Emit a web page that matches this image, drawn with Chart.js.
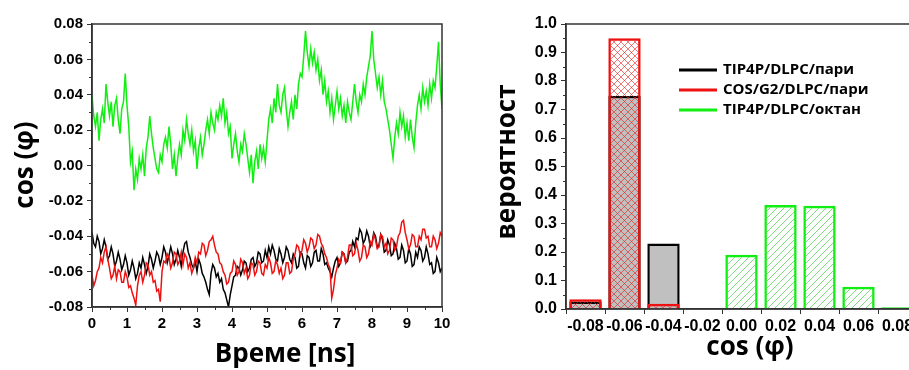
<!DOCTYPE html>
<html>
<head>
<meta charset="utf-8">
<script src="https://cdn.jsdelivr.net/npm/chart.js@4.4.1/dist/chart.umd.min.js"></script>
<style>
  html, body { margin: 0; padding: 0; background: #fff; overflow: hidden; }
  #timeChart { position: absolute; left: 0; top: 0; }
  #histChart { position: absolute; left: 460px; top: 0; }
</style>
</head>
<body>
<canvas id="timeChart" width="460" height="370"></canvas>
<canvas id="histChart" width="470" height="370"></canvas>
<script>
// left panel: cos(phi) vs time, sampled every 0.05 ns
const SAMPLE_STEP_NS = 0.05;

const cosTip4pOctane = [
  0.040, 0.028, 0.022, 0.030, 0.014, 0.026, 0.032, 0.024, 0.046, 0.036, 0.028, 0.036, 0.022, 0.034, 0.038, 0.026, 0.018, 0.032, 0.036, 0.052,
  0.034, 0.022, 0.002, 0.008, -0.014, -0.002, -0.008, 0.004, -0.002, 0.006, -0.006, 0.010, 0.016, 0.028, 0.018, 0.010, 0.004, -0.002, -0.004, 0.006,
  0.002, 0.012, 0.016, 0.010, 0.022, 0.012, -0.002, 0.006, -0.006, 0.004, 0.012, 0.006, 0.020, 0.014, 0.026, 0.018, 0.012, 0.020, 0.008, 0.014,
  -0.002, 0.010, 0.016, 0.006, 0.012, 0.020, 0.026, 0.018, 0.030, 0.024, 0.020, 0.030, 0.026, 0.034, 0.028, 0.038, 0.024, 0.030, 0.018, 0.022,
  0.004, 0.012, 0.018, 0.008, 0.002, 0.012, 0.008, 0.018, 0.012, 0.004, -0.004, 0.006, -0.010, 0.002, 0.008, -0.002, 0.012, 0.004, 0.010, 0.002,
  0.014, 0.026, 0.032, 0.024, 0.038, 0.030, 0.046, 0.034, 0.030, 0.040, 0.044, 0.032, 0.022, 0.030, 0.036, 0.026, 0.040, 0.032, 0.046, 0.052,
  0.050, 0.062, 0.076, 0.064, 0.056, 0.066, 0.058, 0.064, 0.054, 0.060, 0.048, 0.054, 0.040, 0.048, 0.036, 0.042, 0.030, 0.038, 0.026, 0.034,
  0.042, 0.032, 0.038, 0.028, 0.034, 0.024, 0.036, 0.030, 0.026, 0.036, 0.046, 0.036, 0.030, 0.040, 0.036, 0.046, 0.040, 0.050, 0.056, 0.062,
  0.076, 0.060, 0.052, 0.044, 0.050, 0.040, 0.048, 0.036, 0.032, 0.026, 0.020, 0.012, 0.004, 0.016, 0.024, 0.018, 0.030, 0.022, 0.028, 0.016,
  0.024, 0.014, 0.026, 0.016, 0.010, 0.024, 0.034, 0.040, 0.032, 0.044, 0.036, 0.042, 0.034, 0.046, 0.038, 0.048, 0.044, 0.056, 0.070, 0.046,
  0.032
];

const cosTip4pAir = [
  -0.038, -0.044, -0.046, -0.040, -0.043, -0.050, -0.047, -0.042, -0.046, -0.053, -0.051, -0.046, -0.050, -0.057, -0.054, -0.049, -0.053, -0.059, -0.056, -0.051,
  -0.055, -0.062, -0.059, -0.054, -0.058, -0.064, -0.061, -0.055, -0.058, -0.052, -0.056, -0.061, -0.057, -0.050, -0.053, -0.058, -0.054, -0.049, -0.051, -0.056,
  -0.052, -0.046, -0.049, -0.055, -0.051, -0.046, -0.050, -0.056, -0.053, -0.048, -0.052, -0.057, -0.049, -0.044, -0.043, -0.049, -0.052, -0.056, -0.058, -0.054,
  -0.060, -0.053, -0.056, -0.061, -0.063, -0.066, -0.070, -0.073, -0.061, -0.056, -0.058, -0.063, -0.061, -0.066, -0.064, -0.070, -0.072, -0.076, -0.080, -0.073,
  -0.068, -0.063, -0.062, -0.057, -0.058, -0.062, -0.059, -0.054, -0.055, -0.060, -0.058, -0.053, -0.052, -0.057, -0.055, -0.049, -0.050, -0.055, -0.054, -0.048,
  -0.052, -0.046, -0.050, -0.045, -0.048, -0.053, -0.054, -0.047, -0.050, -0.055, -0.052, -0.046, -0.048, -0.053, -0.055, -0.050, -0.052, -0.058, -0.057, -0.049,
  -0.050, -0.055, -0.058, -0.051, -0.052, -0.057, -0.055, -0.049, -0.048, -0.054, -0.054, -0.047, -0.050, -0.056, -0.055, -0.058, -0.060, -0.063, -0.058, -0.054,
  -0.052, -0.057, -0.055, -0.049, -0.050, -0.055, -0.054, -0.049, -0.048, -0.043, -0.046, -0.041, -0.042, -0.036, -0.038, -0.044, -0.042, -0.037, -0.040, -0.046,
  -0.044, -0.038, -0.040, -0.046, -0.045, -0.039, -0.042, -0.049, -0.048, -0.042, -0.045, -0.051, -0.050, -0.044, -0.047, -0.053, -0.052, -0.045, -0.048, -0.055,
  -0.054, -0.047, -0.050, -0.057, -0.056, -0.049, -0.052, -0.046, -0.048, -0.054, -0.052, -0.046, -0.050, -0.056, -0.055, -0.061, -0.060, -0.052, -0.055, -0.060,
  -0.058
];

const cosCosG2Air = [
  -0.062, -0.068, -0.065, -0.060, -0.058, -0.052, -0.055, -0.049, -0.046, -0.053, -0.058, -0.064, -0.062, -0.057, -0.064, -0.059, -0.060, -0.066, -0.066, -0.060,
  -0.063, -0.069, -0.068, -0.072, -0.075, -0.079, -0.068, -0.062, -0.060, -0.066, -0.062, -0.055, -0.056, -0.062, -0.060, -0.066, -0.065, -0.071, -0.070, -0.077,
  -0.060, -0.054, -0.055, -0.050, -0.052, -0.058, -0.055, -0.049, -0.050, -0.056, -0.054, -0.049, -0.056, -0.050, -0.052, -0.058, -0.055, -0.061, -0.058, -0.052,
  -0.055, -0.049, -0.050, -0.044, -0.045, -0.051, -0.048, -0.043, -0.042, -0.040, -0.045, -0.049, -0.050, -0.055, -0.056, -0.060, -0.062, -0.067, -0.066, -0.061,
  -0.060, -0.054, -0.056, -0.062, -0.060, -0.053, -0.055, -0.061, -0.058, -0.064, -0.062, -0.055, -0.056, -0.062, -0.060, -0.054, -0.055, -0.061, -0.062, -0.056,
  -0.058, -0.052, -0.055, -0.061, -0.060, -0.054, -0.056, -0.061, -0.058, -0.064, -0.062, -0.055, -0.055, -0.061, -0.060, -0.053, -0.050, -0.045, -0.046, -0.051,
  -0.048, -0.042, -0.044, -0.049, -0.046, -0.041, -0.042, -0.047, -0.045, -0.039, -0.040, -0.044, -0.046, -0.050, -0.052, -0.056, -0.058, -0.075, -0.070, -0.062,
  -0.058, -0.053, -0.055, -0.049, -0.050, -0.055, -0.052, -0.045, -0.045, -0.051, -0.050, -0.044, -0.048, -0.054, -0.052, -0.045, -0.046, -0.052, -0.050, -0.043,
  -0.045, -0.039, -0.042, -0.047, -0.046, -0.039, -0.040, -0.046, -0.044, -0.050, -0.048, -0.041, -0.042, -0.048, -0.046, -0.040, -0.038, -0.032, -0.031, -0.038,
  -0.042, -0.047, -0.045, -0.039, -0.040, -0.046, -0.046, -0.040, -0.042, -0.036, -0.036, -0.041, -0.040, -0.046, -0.046, -0.040, -0.042, -0.047, -0.044, -0.038,
  -0.040
];

// right panel: histogram of cos(phi)
const binLabels = ["-0.08", "-0.06", "-0.04", "-0.02", "0.00", "0.02", "0.04", "0.06", "0.08"];
const probTip4pAir = [0.026, 0.747, 0.23, null, null, null, null, null, null];
const probCosG2Air = [0.034, 0.95, 0.018, null, null, null, null, null, null];
const probTip4pOctane = [null, null, null, 0.002, 0.19, 0.365, 0.362, 0.078, 0.006];

const seriesNames = ["TIP4P/DLPC/пари", "COS/G2/DLPC/пари", "TIP4P/DLPC/октан"];

const BLACK = "#000000";
const RED = "#ee1111";
const GREEN = "#11ee11";
const AXIS = "#333333";
const TICK_FONT = { family: "'Liberation Sans', Arial, sans-serif", weight: "bold", size: 15 };
const TITLE_FONT = "bold 26px 'Open Sans', sans-serif";

const toPoints = (vals) => vals.map((v, i) => ({ x: i * SAMPLE_STEP_NS, y: v }));

function makePattern(kind, color) {
  const c = document.createElement("canvas");
  c.width = 7;
  c.height = 7;
  const g = c.getContext("2d");
  g.strokeStyle = color;
  g.lineWidth = 1;
  g.beginPath();
  g.moveTo(-1, 8); g.lineTo(8, -1);
  g.moveTo(-4.5, 4.5); g.lineTo(4.5, -4.5);
  g.moveTo(2.5, 11.5); g.lineTo(11.5, 2.5);
  if (kind === "cross") {
    g.moveTo(-1, -1); g.lineTo(8, 8);
    g.moveTo(-4.5, 2.5); g.lineTo(4.5, 11.5);
    g.moveTo(2.5, -4.5); g.lineTo(11.5, 4.5);
  }
  g.stroke();
  return g.createPattern(c, "repeat");
}

// box frame, minor ticks and axis titles
const decorPlugin = {
  id: "decor",
  afterDraw(chart, args, opts) {
    const { ctx, chartArea: a, scales } = chart;
    ctx.save();
    ctx.strokeStyle = AXIS;
    ctx.lineWidth = 1.5;
    ctx.strokeRect(a.left, a.top, a.right - a.left, a.bottom - a.top);

    ctx.lineWidth = 1;
    ctx.beginPath();
    (opts.xMinor || []).forEach((v) => {
      const px = Math.round(scales.x.getPixelForValue(v)) + 0.5;
      ctx.moveTo(px, a.bottom);
      ctx.lineTo(px, a.bottom + 3);
    });
    (opts.yMinor || []).forEach((v) => {
      const py = Math.round(scales.y.getPixelForValue(v)) + 0.5;
      ctx.moveTo(a.left - 3, py);
      ctx.lineTo(a.left, py);
    });
    ctx.stroke();

    ctx.fillStyle = "#000";
    ctx.font = TITLE_FONT;
    ctx.textAlign = "center";
    ctx.textBaseline = "middle";
    const xt = opts.xTitle;
    ctx.fillText(xt.text, a.left + xt.dx, a.bottom + xt.dy);
    const yt = opts.yTitle;
    ctx.translate(a.left + yt.dx, a.top + yt.dy);
    ctx.rotate(-Math.PI / 2);
    ctx.fillText(yt.text, 0, 0);
    ctx.restore();
  },
};

const legendPlugin = {
  id: "lineLegend",
  afterDraw(chart, args, opts) {
    if (!opts.items) return;
    const { ctx, chartArea: a } = chart;
    ctx.save();
    ctx.font = "bold 15px 'Open Sans', sans-serif";
    ctx.textBaseline = "middle";
    ctx.textAlign = "left";
    opts.items.forEach((it, i) => {
      const y = a.top + 46 + i * 20;
      const x = a.left + 113;
      ctx.strokeStyle = it.color;
      ctx.lineWidth = 3;
      ctx.beginPath();
      ctx.moveTo(x, y);
      ctx.lineTo(x + 38, y);
      ctx.stroke();
      ctx.fillStyle = "#000";
      ctx.fillText(it.label, x + 44, y);
    });
    ctx.restore();
  },
};

Chart.register(decorPlugin, legendPlugin);

const axisGrid = { drawOnChartArea: false, drawTicks: true, tickLength: 5, color: AXIS };
const axisBorder = { display: true, color: AXIS, width: 1.5 };

new Chart(document.getElementById("timeChart"), {
  type: "line",
  data: {
    datasets: [
      { label: seriesNames[2], data: toPoints(cosTip4pOctane), borderColor: GREEN, order: 3 },
      { label: seriesNames[0], data: toPoints(cosTip4pAir), borderColor: BLACK, order: 2 },
      { label: seriesNames[1], data: toPoints(cosCosG2Air), borderColor: RED, order: 1 },
    ],
  },
  options: {
    responsive: false,
    animation: false,
    devicePixelRatio: 1,
    layout: { padding: { top: 24, right: 18, left: 0, bottom: 0 } },
    elements: { point: { radius: 0 }, line: { borderWidth: 1.5, tension: 0 } },
    scales: {
      x: {
        type: "linear",
        min: 0,
        max: 10,
        grid: axisGrid,
        border: axisBorder,
        ticks: { stepSize: 1, color: "#000", font: TICK_FONT, padding: 3, maxRotation: 0 },
        afterFit: (s) => { s.height = 63; },
      },
      y: {
        min: -0.08,
        max: 0.08,
        grid: axisGrid,
        border: axisBorder,
        ticks: { stepSize: 0.02, color: "#000", font: TICK_FONT, padding: 4, callback: (v) => v.toFixed(2) },
        afterFit: (s) => { s.width = 92; },
      },
    },
    plugins: {
      legend: { display: false },
      tooltip: { enabled: false },
      decor: {
        xMinor: [0.5, 1.5, 2.5, 3.5, 4.5, 5.5, 6.5, 7.5, 8.5, 9.5],
        yMinor: [-0.07, -0.05, -0.03, -0.01, 0.01, 0.03, 0.05, 0.07],
        xTitle: { text: "Време [ns]", dx: 193, dy: 48 },
        yTitle: { text: "cos (φ)", dx: -66, dy: 141 },
      },
    },
  },
});

new Chart(document.getElementById("histChart"), {
  type: "bar",
  data: {
    labels: binLabels,
    datasets: [
      { label: seriesNames[0], data: probTip4pAir, backgroundColor: "#c0c0c0", borderColor: BLACK, order: 2 },
      { label: seriesNames[1], data: probCosG2Air, backgroundColor: makePattern("cross", "rgba(225,30,30,0.6)"), borderColor: RED, order: 1 },
      { label: seriesNames[2], data: probTip4pOctane, backgroundColor: makePattern("diag", "rgba(40,200,40,0.6)"), borderColor: GREEN, order: 3 },
    ],
  },
  options: {
    responsive: false,
    animation: false,
    devicePixelRatio: 1,
    layout: { padding: { top: 24, right: 13, left: 0, bottom: 0 } },
    datasets: { bar: { grouped: false, barPercentage: 0.83, categoryPercentage: 1, borderWidth: 2.5 } },
    scales: {
      x: {
        offset: true,
        grid: { ...axisGrid, offset: true },
        border: axisBorder,
        ticks: { color: "#000", font: { ...TICK_FONT, size: 16 }, padding: 3, maxRotation: 0, autoSkip: false },
        afterFit: (s) => { s.height = 61; },
      },
      y: {
        min: 0,
        max: 1,
        grid: axisGrid,
        border: axisBorder,
        ticks: { stepSize: 0.1, color: "#000", font: { ...TICK_FONT, size: 16 }, padding: 4, callback: (v) => v.toFixed(1) },
        afterFit: (s) => { s.width = 106; },
      },
    },
    plugins: {
      legend: { display: false },
      tooltip: { enabled: false },
      decor: {
        yMinor: [0.05, 0.15, 0.25, 0.35, 0.45, 0.55, 0.65, 0.75, 0.85, 0.95],
        xTitle: { text: "cos (φ)", dx: 184, dy: 39 },
        yTitle: { text: "вероятност", dx: -58, dy: 138 },
      },
      lineLegend: {
        items: [
          { label: seriesNames[0], color: BLACK },
          { label: seriesNames[1], color: RED },
          { label: seriesNames[2], color: GREEN },
        ],
      },
    },
  },
});
</script>
</body>
</html>
